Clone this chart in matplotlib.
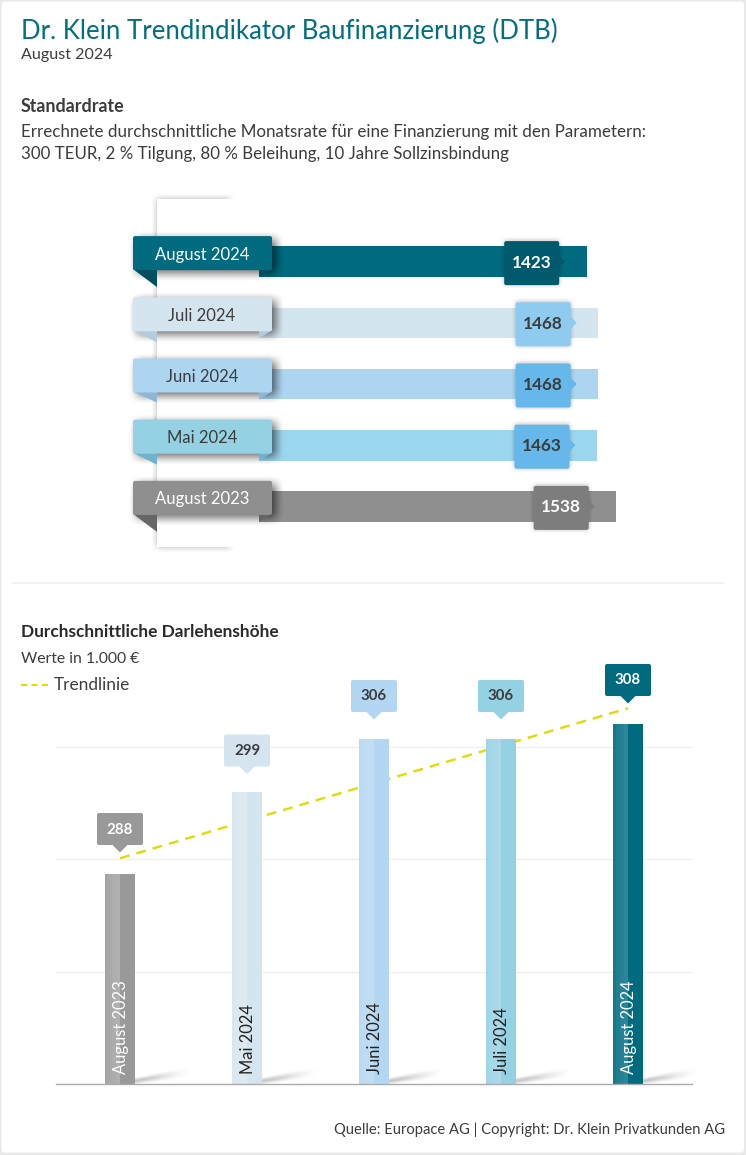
#!/usr/bin/env python3
"""Dr. Klein Trendindikator Baufinanzierung, August 2024."""

import matplotlib
matplotlib.use("Agg")
import matplotlib.pyplot as plt
import numpy as np
from matplotlib.colors import to_rgb
from matplotlib.patches import FancyBboxPatch, Polygon, Rectangle

W, H = 746, 1155
BODY_FONT = "Lato"
TEXT_COLOR = "#3c3c3c"

# Standardrate
rate_months = ["August 2024", "Juli 2024", "Juni 2024", "Mai 2024", "August 2023"]
rate_values = [1423, 1468, 1468, 1463, 1538]
rate_bar_colors = ["#006b7f", "#d5e5f0", "#add5f0", "#9cd6ee", "#8f8f8f"]
rate_tag_colors = ["#006b7f", "#d5e5f0", "#add5f0", "#94d1e3", "#8f8f8f"]
rate_fold_colors = ["#004f5e", "#b4cbdb", "#8cb8d6", "#6fb3cc", "#666666"]
rate_box_colors = ["#005a6b", "#8fcbef", "#66b8eb", "#66b8eb", "#7d7d7d"]
rate_text_colors = ["white", TEXT_COLOR, TEXT_COLOR, TEXT_COLOR, "white"]

# Durchschnittliche Darlehenshoehe
loan_months = ["August 2023", "Mai 2024", "Juni 2024", "Juli 2024", "August 2024"]
loan_values = [288, 299, 306, 306, 308]
loan_colors = ["#999999", "#d5e5f0", "#b3d7f2", "#94d1e3", "#006b7f"]
loan_highlight = ["#c4c4c4", "#e6f0f6", "#cde5f8", "#bfe3f1", "#4f9dab"]
loan_text_colors = ["white", "#222222", "#222222", "#222222", "white"]
loan_value_colors = ["white", TEXT_COLOR, TEXT_COLOR, TEXT_COLOR, "white"]
trend_values = [290.1, 310.1]
grid_ticks = [260, 275, 290, 305]


def axes_from_pixels(fig, left, top, right, bottom, **kwargs):
    """Add axes placed with top-left pixel coordinates."""
    return fig.add_axes([left / W, 1 - bottom / H, (right - left) / W, (bottom - top) / H], **kwargs)


def to_px(ax, x, y):
    """Convert data coordinates of ax to overlay pixels."""
    px, py = ax.transData.transform((x, y))
    return px, H - py


def smooth(t):
    t = np.clip(t, 0, 1)
    return t * t * (3 - 2 * t)


def put_alpha(ax, alpha, x0, y0, zorder, color="black"):
    """Show an alpha map on the pixel overlay."""
    rgba = np.zeros(alpha.shape + (4,))
    rgba[..., :3] = to_rgb(color)
    rgba[..., 3] = alpha
    rows, cols = alpha.shape
    ax.imshow(rgba, extent=(x0, x0 + cols, y0 + rows, y0), zorder=zorder,
              interpolation="bilinear", aspect="auto")


def soft_shadow(ax, x0, y0, x1, y1, blur=8, strength=0.4, zorder=3):
    """Blurred box shadow as a soft alpha image."""
    left, top = int(x0 - blur - 1), int(y0 - blur - 1)
    xs = np.arange(left, int(x1 + blur + 2)) + 0.5
    ys = np.arange(top, int(y1 + blur + 2)) + 0.5
    ax_x = smooth((xs - x0 + blur) / (2 * blur)) * smooth((x1 + blur - xs) / (2 * blur))
    ax_y = smooth((ys - y0 + blur) / (2 * blur)) * smooth((y1 + blur - ys) / (2 * blur))
    put_alpha(ax, strength * np.outer(ax_y, ax_x), left, top, zorder)


def floor_shadow(ax, x, y):
    """Wedge of shadow cast to the right of a column."""
    xs = np.arange(0, 70) + 0.5
    ys = np.arange(-20, 0) + 0.5
    u = xs / 60
    centre = -3 - 10 * u
    half = 4 + 4 * u
    dist = np.abs(ys[:, None] - centre[None, :])
    alpha = 0.22 * smooth(1 - u)[None, :] * smooth(1 - dist / half[None, :])
    put_alpha(ax, alpha, x, y - 20, 0.5)


def rounded_box(ax, x0, y0, x1, y1, color, zorder, radius=2):
    ax.add_patch(FancyBboxPatch((x0, y0), x1 - x0, y1 - y0,
                                boxstyle=f"round,pad=0,rounding_size={radius}",
                                fc=color, ec="none", zorder=zorder))


def draw_rate_chart(fig, overlay):
    ax = axes_from_pixels(fig, 56, 231, 692, 537, zorder=1)
    ax.set_xlim(-646, 1833.5)
    ax.set_ylim(4.5, -0.5)
    ax.axis("off")
    rows = list(range(len(rate_months)))
    ax.barh(rows, rate_values, height=0.5, color=rate_bar_colors)
    fig.canvas.draw()

    # white sheet the ribbons are pinned on
    soft_shadow(overlay, 157, 199, 230, 547, blur=7, strength=0.3, zorder=2)
    overlay.add_patch(Rectangle((157, 199), 102, 348, fc="white", ec="none", zorder=2.5))

    fold_depths = [17, 11, 10, 11, 17]
    for row, month, value in zip(rows, rate_months, rate_values):
        end_x, mid_y = to_px(ax, value, row)
        top, bottom = mid_y - 25.5, mid_y + 8.5

        # value box with arrow tip
        box_right = end_x - 27.5
        soft_shadow(overlay, box_right - 55, mid_y - 21, box_right, mid_y + 23,
                    blur=5, strength=0.28, zorder=3)
        rounded_box(overlay, box_right - 55, mid_y - 20.5, box_right, mid_y + 23.5,
                    rate_box_colors[row], 3.5)
        overlay.add_patch(Polygon([(box_right - 1, mid_y - 7), (box_right + 6, mid_y), (box_right - 1, mid_y + 7)],
                                  fc=rate_box_colors[row], ec="none", zorder=3.5))
        overlay.text(box_right - 27.5, mid_y + 1, str(value), ha="center", va="center",
                     fontsize=12.3, fontweight="bold", family=BODY_FONT,
                     color=rate_text_colors[row], zorder=4)

        # ribbon
        soft_shadow(overlay, 137, top + 3, 276, bottom + 3, blur=9, strength=0.6, zorder=4.2)
        overlay.add_patch(Polygon([(133, bottom - 1), (157, bottom + fold_depths[row]), (157, bottom - 1)],
                                  fc=rate_fold_colors[row], ec="none", zorder=4.4))
        overlay.add_patch(Polygon([(259, bottom - 1), (259, bottom + 7), (272, bottom - 1)],
                                  fc=rate_fold_colors[row], ec="none", zorder=4.4))
        rounded_box(overlay, 133, top, 272, bottom, rate_tag_colors[row], 4.6)
        overlay.text(202, mid_y - 7, month, ha="center", va="center", fontsize=12.0,
                     family=BODY_FONT, color=rate_text_colors[row], zorder=5)


def draw_loan_chart(fig, overlay):
    ax = axes_from_pixels(fig, 56, 700, 692, 1084, zorder=1)
    ax.set_xlim(-0.5039, 4.5039)
    ax.set_ylim(260, 311.2)
    ax.patch.set_alpha(0)
    for name, spine in ax.spines.items():
        spine.set_visible(name == "bottom")
    ax.spines["bottom"].set_color("#aaaaaa")
    ax.spines["bottom"].set_linewidth(1.0)
    ax.set_xticks([])
    ax.set_yticks(grid_ticks[1:])
    ax.tick_params(left=False, labelleft=False)
    ax.grid(axis="y", color="#eeeeee", linewidth=1)
    ax.set_axisbelow(True)

    cols = list(range(len(loan_months)))
    bar_w = 0.2435
    fig.canvas.draw()

    for col in cols:
        x, y = to_px(ax, col, 260)
        floor_shadow(overlay, x + 15, y)

    # the trend line runs behind the columns
    ax.plot(cols[0:1] + cols[-1:], trend_values, color="#e0dc00", linewidth=1.7,
            dashes=(4.2, 3), zorder=1.5)

    ax.bar(cols, loan_values, width=bar_w, color=loan_colors, zorder=2)
    # lighter band growing towards the middle of each column
    for share in (1.0, 1.0, 0.8, 0.5, 0.25):
        ax.bar(cols, loan_values, width=-bar_w / 2 * share, align="edge", color=loan_highlight,
               alpha=0.16, zorder=2.1)

    flag_gaps = [29, 25, 27, 27, 28]
    for col, month, value in zip(cols, loan_months, loan_values):
        ax.annotate(month, (col, 260), xytext=(0.5, 7.5), textcoords="offset points", rotation=90,
                    ha="center", va="bottom", fontsize=11.9, family=BODY_FONT,
                    color=loan_text_colors[col], zorder=4)
        # value flag above the bar
        x, y = to_px(ax, col, value)
        flag_bottom = y - flag_gaps[col]
        flag_top = flag_bottom - 32
        rounded_box(overlay, x - 23, flag_top, x + 23, flag_bottom, loan_colors[col], 3)
        overlay.add_patch(Polygon([(x - 8, flag_bottom - 0.5), (x, flag_bottom + 7.5), (x + 8, flag_bottom - 0.5)],
                                  fc=loan_colors[col], ec="none", zorder=3))
        overlay.text(x, (flag_top + flag_bottom) / 2 + 0.5, str(value), ha="center", va="center",
                     fontsize=10.8, fontweight="bold", family=BODY_FONT,
                     color=loan_value_colors[col], zorder=4)


def main():
    fig = plt.figure(figsize=(W / 100, H / 100), dpi=100, facecolor="#e9e9e9")
    card = fig.add_axes([0, 0, 1, 1], zorder=0)
    card.set_xlim(0, W)
    card.set_ylim(H, 0)
    card.axis("off")
    card.add_patch(FancyBboxPatch((1.5, 1.5), W - 3.5, H - 4, boxstyle="round,pad=0,rounding_size=3",
                                  fc="white", ec="none"))

    overlay = fig.add_axes([0, 0, 1, 1], zorder=2)
    overlay.axis("off")

    def body(x, y, text, **kwargs):
        kwargs.setdefault("fontsize", 12.3)
        kwargs.setdefault("color", TEXT_COLOR)
        overlay.text(x, y, text, family=BODY_FONT, va="center", zorder=6, **kwargs)

    body(21, 31, "Dr. Klein Trendindikator Baufinanzierung (DTB)", fontsize=18.5, color="#00707f")
    body(21, 55, "August 2024", fontsize=11.6)
    body(21, 107, "Standardrate", fontweight="bold", fontsize=12.9)
    body(21, 132, "Errechnete durchschnittliche Monatsrate für eine Finanzierung mit den Parametern:", fontsize=12.25)
    body(21, 154, "300 TEUR, 2 % Tilgung, 80 % Beleihung, 10 Jahre Sollzinsbindung", fontsize=12.2)

    overlay.plot([12, 724], [583, 583], color="#f0f0f0", linewidth=1.2)

    draw_rate_chart(fig, overlay)
    draw_loan_chart(fig, overlay)

    body(21, 632, "Durchschnittliche Darlehenshöhe", fontweight="bold", fontsize=12.45, color="#2a2a2a")
    body(21, 659, "Werte in 1.000 €", fontsize=11.35)
    overlay.plot([21, 48], [685, 685], color="#e0dc00", linewidth=1.5, dashes=(2.9, 2.1))
    body(54, 685, "Trendlinie", fontsize=12.4)
    body(725, 1130, "Quelle: Europace AG | Copyright: Dr. Klein Privatkunden AG", fontsize=10.6, ha="right")

    # imshow resets the limits, so the pixel frame is fixed last
    overlay.set_xlim(0, W)
    overlay.set_ylim(H, 0)
    fig.savefig("out.png", dpi=100, facecolor=fig.get_facecolor())


if __name__ == "__main__":
    main()
